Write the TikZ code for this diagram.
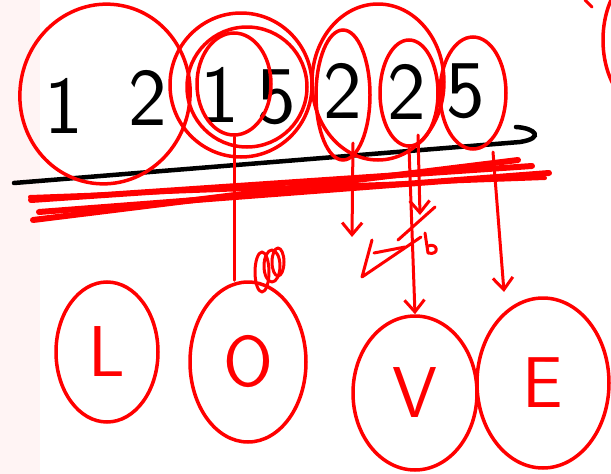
\documentclass[tikz,border=0pt]{standalone}
\usepackage{fontspec}
\usetikzlibrary{shapes.geometric,arrows.meta}

\definecolor{inkred}{RGB}{255,0,0}
\definecolor{margin}{RGB}{255,244,244}

\tikzset{
  digit/.style={font=\sffamily\fontsize{82}{82}\selectfont, text=black, inner sep=0pt},
  ring/.style={ellipse, draw=inkred, line width=3.5pt, inner sep=0pt},
  letter/.style={ellipse, draw=inkred, line width=3.5pt, text=inkred, inner sep=0pt,
    font=\sffamily\fontsize{72}{72}\selectfont},
  pointer/.style={draw=inkred, line width=3pt, line cap=round,
    -{Straight Barb[length=12pt,width=20pt,line width=3pt]}},
  stroke/.style={draw=inkred, line width=3pt, line cap=round, line join=round},
  strike/.style={draw=inkred, line width=6pt, line cap=round},
}

\begin{document}
\begin{tikzpicture}[x=1pt,y=-1pt]
\useasboundingbox (0,0) rectangle (611,474);
\clip (0,0) rectangle (611,474);
\fill[margin] (0,0) rectangle (40,474);

% the digits
\node[digit] (d1) at (64,106) {1};
\node[digit] (d2) at (148,98) {2};
\node[digit] (d3) at (220,95) {1};
\node[digit] (d4) at (277,97) {5};
\node[digit] (d5) at (343,91) {2};
\node[digit] (d6) at (407,92) {2};
\node[digit] (d7) at (466,91) {5};

% underline
\draw[line width=4.5pt, line cap=round] (14,183) -- (520,142)
  .. controls (545,138) and (535,128) .. (516,127);

% crossing out under the line
\draw[strike] (31,200) -- (532,166);
\draw[strike] (39,212) -- (549,173);
\draw[strike] (33,220) -- (518,160);
\draw[strike, line width=4pt] (30,197) -- (545,178);

% rings round the groups
\node[ring, minimum width=170pt, minimum height=180pt, rotate=-10] (r12) at (105,94) {};
\node[ring, minimum width=142pt, minimum height=144pt] (r15) at (241,85) {};
\node[ring, minimum width=120pt, minimum height=120pt] (r15b) at (247,87) {};
\node[ring, minimum width=74pt, minimum height=102pt] (r1) at (234,84) {};
\node[ring, minimum width=132pt, minimum height=156pt] (r22) at (378,82) {};
\node[ring, minimum width=54pt, minimum height=130pt] (r2a) at (343,95) {};
\node[ring, minimum width=58pt, minimum height=106pt] (r2b) at (409,93) {};
\node[ring, minimum width=66pt, minimum height=112pt] (r5) at (473,93) {};
\node[ring, minimum width=90pt, minimum height=140pt] (rx) at (648,40) {};

% the letters
\node[letter, minimum width=102pt, minimum height=140pt] (l) at (107,352) {L};
\node[letter, minimum width=116pt, minimum height=160pt] (o) at (248,362) {O};
\node[letter, minimum width=124pt, minimum height=154pt] (v) at (415,393) {V};
\node[letter, minimum width=132pt, minimum height=170pt] (e) at (543,383) {E};

% free ends
\coordinate (s2a) at (353,143);
\coordinate (t2a) at (352,237);
\coordinate (s2b) at (418,135);
\coordinate (t2b) at (420,215);
\coordinate (s5) at (493,152);
\coordinate (t5) at (504,292);

% pointers
\draw[stroke] (r1.south) -- (r1.south |- o.north);
\draw[pointer] (s2a) -- (t2a);
\draw[pointer] (r2b.south) -- (v.north);
\draw[pointer] (s2b) -- (t2b);
\draw[pointer] (s5) -- (t5);

% scribbles
\draw[stroke] (262,272) ellipse (7 and 20);
\draw[stroke] (272,266) ellipse (8 and 16);
\draw[stroke] (278,262) ellipse (6 and 14);
\draw[stroke] (435,207) -- (398,240);
\draw[stroke] (421,237) -- (362,277) -- (372,240);
\draw[stroke] (374,253) -- (405,247);
\draw[stroke] (425,233) -- (428,253) .. controls (440,256) and (438,242) .. (428,246);
\draw[stroke] (585,0) -- (592,7);
\end{tikzpicture}
\end{document}
